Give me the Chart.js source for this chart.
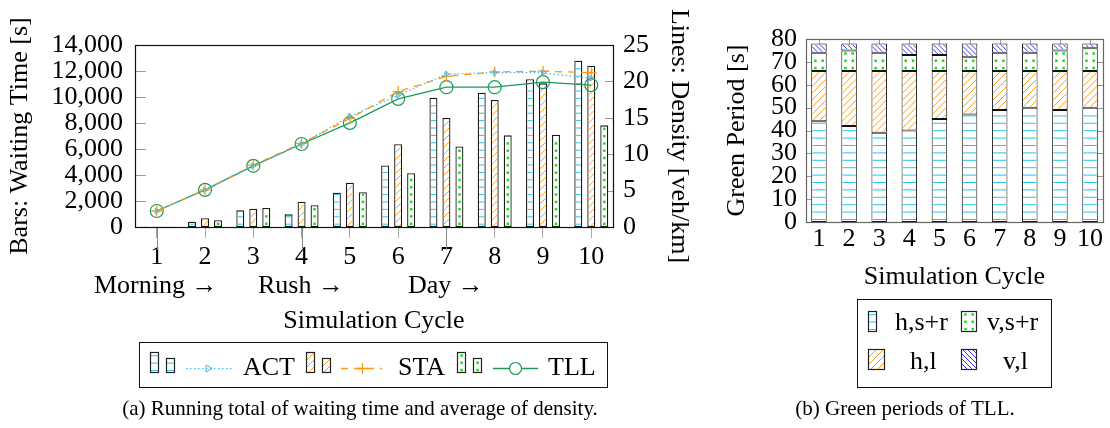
<!DOCTYPE html>
<html><head><meta charset="utf-8">
<script src="https://cdn.jsdelivr.net/npm/chart.js@4.4.1/dist/chart.umd.min.js"></script>
<style>
html,body{margin:0;padding:0;background:#fff;width:1110px;height:428px;overflow:hidden;font-family:'Liberation Serif',serif;color:#000}
canvas{position:absolute}
.t{position:absolute;white-space:nowrap;line-height:30px;font-size:26px}
.box{position:absolute;border:1.3px solid #111;box-sizing:border-box}
.cap{position:absolute;text-align:center;font-size:21px;line-height:26px;white-space:nowrap}
</style></head><body>
<canvas id="c1" width="720" height="340" style="left:0;top:0;width:720px;height:340px"></canvas>
<canvas id="c2" width="410" height="295" style="left:700px;top:0;width:410px;height:295px"></canvas>
<div class="box" style="left:139px;top:342px;width:469px;height:46px"></div>
<div class="box" style="left:857px;top:299px;width:195px;height:89px"></div>
<canvas id="ov" width="1110" height="428" style="left:0;top:0;width:1110px;height:428px;pointer-events:none"></canvas>
<div id="phases"></div>
<div class="t" style="left:243px;top:352px">ACT</div>
<div class="t" style="left:398px;top:352px">STA</div>
<div class="t" style="left:548px;top:352px">TLL</div>
<div class="t" style="left:895px;top:307px">h,s+r</div>
<div class="t" style="left:987px;top:307px">v,s+r</div>
<div class="t" style="left:910px;top:346px">h,l</div>
<div class="t" style="left:1003px;top:346px">v,l</div>
<div class="cap" style="left:0;width:720px;top:395px">(a) Running total of waiting time and average of density.</div>
<div class="cap" style="left:705px;width:400px;top:395px">(b) Green periods of TLL.</div>
<script>
// ---------- data ----------
const cycles = [1, 2, 3, 4, 5, 6, 7, 8, 9, 10];
const waitACT = [15, 410, 1280, 975, 2640, 4740, 9940, 10330, 11360, 12790];
const waitSTA = [15, 670, 1410, 1950, 3410, 6360, 8380, 9770, 11050, 12400];
const waitTLL = [15, 515, 1460, 1670, 2670, 4130, 6200, 7050, 7100, 7820];
const densACT = [2.2, 5.1, 8.4, 11.4, 15.2, 18.1, 21.0, 21.2, 21.2, 20.4];
const densSTA = [2.2, 5.1, 8.5, 11.5, 14.9, 18.6, 20.7, 21.3, 21.4, 21.2];
const densTLL = [2.2, 5.1, 8.4, 11.4, 14.3, 17.6, 19.2, 19.2, 19.9, 19.5];
const phaseLabels = ['Morning →', 'Rush →', 'Day →'];
const phaseStarts = [1, 4, 7];
const greenHSR = [44, 42, 39, 40, 45, 47, 49, 50, 49, 50];
const greenHL  = [22, 24, 27, 26, 21, 19, 17, 16, 17, 16];
const greenVSR = [8, 9, 8, 7, 7, 6, 8, 8, 9, 10];
const greenVL  = [4, 3, 4, 5, 5, 6, 4, 4, 3, 2];

const CYAN = '#22c8ee', ORANGE = '#ff9a10', GREEN = '#19dd19', BLUE = '#3535ff';
const ACTLINE = '#45b6ea', STALINE = '#ff9a10', TLLLINE = '#1b9a58';
const FONT = 'Liberation Serif';
Chart.defaults.font.family = FONT;
Chart.defaults.color = '#000';

function paintPattern(ctx, type, color, l, t, r, b) {
  ctx.save();
  ctx.beginPath(); ctx.rect(l, t, r - l, b - t); ctx.clip();
  ctx.strokeStyle = color; ctx.fillStyle = color; ctx.lineWidth = 1;
  const h = b - t, w = r - l;
  if (type === 'h') {
    ctx.beginPath();
    for (let y = b - 1.5; y > t; y -= 7.4) { ctx.moveTo(l, y); ctx.lineTo(r, y); }
    ctx.stroke();
  } else if (type === 'ne' || type === 'nw') {
    const s = type === 'ne' ? 7 : 5;
    ctx.beginPath();
    for (let k = -h; k < w + h; k += s) {
      if (type === 'ne') { ctx.moveTo(l + k, b); ctx.lineTo(l + k + h, t); }
      else { ctx.moveTo(l + k, t); ctx.lineTo(l + k + h, b); }
    }
    ctx.stroke();
  } else if (type === 'dots') {
    const s = 7.3;
    const ncol = Math.max(1, Math.round(w / s));
    const x0 = l + (w - (ncol - 1) * s) / 2;
    for (let y = b - 2; y > t + 0.5; y -= s) {
      for (let c = 0; c < ncol; c++) { ctx.fillRect(x0 + c * s - 1.2, y - 1.2, 2.5, 2.5); }
    }
  }
  ctx.restore();
}

const patternPlugin = {
  id: 'patterns',
  afterDatasetDraw(chart, args) {
    const ds = chart.data.datasets[args.index];
    if (!ds.pattern) return;
    const bw = ds.borderWidth || 0;
    args.meta.data.forEach(el => {
      const p = el.getProps(['x', 'y', 'base', 'width'], true);
      const l = p.x - p.width / 2 + bw, r = p.x + p.width / 2 - bw;
      const t = Math.min(p.y, p.base) + bw, b = Math.max(p.y, p.base) - bw;
      if (b - t < 1) return;
      paintPattern(chart.ctx, ds.pattern, ds.patternColor, l, t, r, b);
    });
  }
};

const pts = arr => cycles.map((c, i) => ({ x: c, y: arr[i] }));

// ---------- chart (a) ----------
const frame1 = {
  id: 'frame1',
  beforeDatasetsDraw(chart) {
    const { ctx, chartArea: a, scales } = chart;
    ctx.save(); ctx.strokeStyle = '#9a9a9a'; ctx.lineWidth = 1; ctx.beginPath();
    scales.y.ticks.forEach(t => { const y = Math.round(scales.y.getPixelForValue(t.value)) + 0.5; ctx.moveTo(a.left, y); ctx.lineTo(a.left + 11, y); });
    scales.y2.ticks.forEach(t => { const y = Math.round(scales.y2.getPixelForValue(t.value)) + 0.5; ctx.moveTo(a.right, y); ctx.lineTo(a.right - 8, y); });
    ctx.stroke(); ctx.restore();
  },
  afterDraw(chart) {
    const { ctx, chartArea: a, scales } = chart;
    ctx.save();
    ctx.strokeStyle = '#888'; ctx.lineWidth = 1; ctx.beginPath();
    phaseStarts.forEach(v => { const x = Math.round(scales.x.getPixelForValue(v)) + 0.5; ctx.moveTo(x, a.bottom); ctx.lineTo(x, a.bottom + 23); });
    ctx.stroke();
    ctx.strokeStyle = '#111'; ctx.lineWidth = 1.2;
    ctx.strokeRect(Math.round(a.left) + 0.5, Math.round(a.top) + 0.5, Math.round(a.right - a.left), Math.round(a.bottom - a.top));
    ctx.restore();
  }
};

new Chart(document.getElementById('c1'), {
  type: 'bar',
  data: {
    datasets: [
      { label: 'ACT', data: pts(waitACT), yAxisID: 'y', backgroundColor: '#fff', borderColor: '#1a1a1a', borderWidth: 1.3, borderSkipped: false, pattern: 'h', patternColor: CYAN, order: 1 },
      { label: 'STA', data: pts(waitSTA), yAxisID: 'y', backgroundColor: '#fff', borderColor: '#1a1a1a', borderWidth: 1.3, borderSkipped: false, pattern: 'ne', patternColor: ORANGE, order: 1 },
      { label: 'TLL', data: pts(waitTLL), yAxisID: 'y', backgroundColor: '#fff', borderColor: '#1a1a1a', borderWidth: 1.3, borderSkipped: false, pattern: 'dots', patternColor: GREEN, order: 1 },
      { type: 'line', label: 'ACT density', data: pts(densACT), yAxisID: 'y2', borderColor: ACTLINE, borderWidth: 1.2, borderDash: [1.5, 2.5], pointStyle: 'triangle', rotation: 90, pointRadius: 3, pointBorderColor: ACTLINE, pointBackgroundColor: 'rgba(0,0,0,0)', pointBorderWidth: 1, fill: false, tension: 0, order: 0 },
      { type: 'line', label: 'STA density', data: pts(densSTA), yAxisID: 'y2', borderColor: STALINE, borderWidth: 1.3, borderDash: [7, 6], pointStyle: 'cross', pointRadius: 5.5, pointBorderColor: STALINE, pointBorderWidth: 1.3, fill: false, tension: 0, order: 0 },
      { type: 'line', label: 'TLL density', data: pts(densTLL), yAxisID: 'y2', borderColor: TLLLINE, borderWidth: 1.3, pointStyle: 'circle', pointRadius: 6.5, pointBorderColor: TLLLINE, pointBackgroundColor: 'rgba(0,0,0,0)', pointBorderWidth: 1.2, fill: false, tension: 0, order: 0 }
    ]
  },
  options: {
    responsive: false, animation: false, devicePixelRatio: 1,
    datasets: { bar: { categoryPercentage: 0.807, barPercentage: 0.615 } },
    layout: { padding: { top: 45, left: 0, right: 0, bottom: 0 } },
    plugins: { legend: { display: false }, tooltip: { enabled: false } },
    scales: {
      x: {
        type: 'linear', min: 0.55, max: 10.45, offset: false,
        afterBuildTicks: s => { s.ticks = cycles.map(v => ({ value: v })); },
        ticks: { font: { size: 26 }, color: '#000', padding: 4, autoSkip: false, maxRotation: 0, callback: v => String(v) },
        grid: { offset: false, drawOnChartArea: false, drawTicks: true, tickLength: 11, color: '#aaa', tickColor: '#aaa' },
        border: { display: false },
        title: { display: true, text: 'Simulation Cycle', font: { size: 26 }, color: '#000', padding: { top: 0, bottom: 3 } },
        afterFit: s => { s.height = 113; }
      },
      y: {
        position: 'left', min: 0, max: 14000,
        ticks: { stepSize: 2000, autoSkip: false, font: { size: 26 }, color: '#000', padding: 12, callback: v => v.toLocaleString('en-US') },
        grid: { display: false, drawTicks: false }, border: { display: false },
        title: { display: true, text: 'Bars: Waiting Time [s]', font: { size: 26 }, color: '#000', padding: { top: 5, bottom: 0 } },
        afterFit: s => { s.width = 135; }
      },
      y2: {
        position: 'right', min: 0, max: 25,
        ticks: { stepSize: 5, autoSkip: false, font: { size: 26 }, color: '#000', padding: 10 },
        grid: { display: false, drawTicks: false }, border: { display: false },
        title: { display: true, text: 'Lines: Density [veh/km]', font: { size: 26 }, color: '#000', padding: { top: 26, bottom: 0 } },
        afterFit: s => { s.width = 107; }
      }
    }
  },
  plugins: [patternPlugin, frame1]
});

// ---------- chart (b) ----------
const frame2 = {
  id: 'frame2',
  beforeDatasetsDraw(chart) {
    const { ctx, chartArea: a, scales } = chart;
    ctx.save(); ctx.strokeStyle = '#9a9a9a'; ctx.lineWidth = 1; ctx.beginPath();
    scales.y.ticks.forEach(t => { const y = Math.round(scales.y.getPixelForValue(t.value)) + 0.5; ctx.moveTo(a.left, y); ctx.lineTo(a.left + 6, y); ctx.moveTo(a.right, y); ctx.lineTo(a.right - 6, y); });
    scales.x.ticks.forEach(t => { const x = Math.round(scales.x.getPixelForValue(t.value)) + 0.5; ctx.moveTo(x, a.bottom); ctx.lineTo(x, a.bottom - 6); ctx.moveTo(x, a.top); ctx.lineTo(x, a.top + 6); });
    ctx.stroke(); ctx.restore();
  },
  afterDraw(chart) {
    const { ctx, chartArea: a } = chart;
    ctx.save(); ctx.strokeStyle = '#666'; ctx.lineWidth = 1.2;
    ctx.strokeRect(Math.round(a.left) + 0.5, Math.round(a.top) + 0.5, Math.round(a.right - a.left), Math.round(a.bottom - a.top));
    ctx.restore();
  }
};

const seg = (label, arr, pattern, color) => ({ label, data: pts(arr), backgroundColor: '#fff', borderColor: '#111', borderWidth: 1, borderSkipped: false, pattern, patternColor: color });

new Chart(document.getElementById('c2'), {
  type: 'bar',
  data: {
    datasets: [
      seg('h,s+r', greenHSR, 'h', CYAN),
      seg('h,l', greenHL, 'ne', ORANGE),
      seg('v,s+r', greenVSR, 'dots', GREEN),
      seg('v,l', greenVL, 'nw', BLUE)
    ]
  },
  options: {
    responsive: false, animation: false, devicePixelRatio: 1,
    datasets: { bar: { categoryPercentage: 1, barPercentage: 0.515 } },
    layout: { padding: { top: 39, left: 0, right: 7, bottom: 0 } },
    plugins: { legend: { display: false }, tooltip: { enabled: false } },
    scales: {
      x: {
        type: 'linear', min: 0.57, max: 10.43, stacked: true, offset: false,
        afterBuildTicks: s => { s.ticks = cycles.map(v => ({ value: v })); },
        ticks: { font: { size: 26 }, color: '#000', padding: 2, autoSkip: false, maxRotation: 0, callback: v => String(v) },
        grid: { display: false, drawTicks: false, offset: false }, border: { display: false },
        title: { display: true, text: 'Simulation Cycle', font: { size: 26 }, color: '#000', padding: { top: 0, bottom: 2 } },
        afterFit: s => { s.height = 73; }
      },
      y: {
        min: 0, max: 80, stacked: true,
        ticks: { stepSize: 10, autoSkip: false, font: { size: 26 }, color: '#000', padding: 9 },
        grid: { display: false, drawTicks: false }, border: { display: false },
        title: { display: true, text: 'Green Period [s]', font: { size: 26 }, color: '#000', padding: { top: 22, bottom: 0 } },
        afterFit: s => { s.width = 106; }
      }
    }
  },
  plugins: [patternPlugin, frame2]
});

// ---------- phase labels ----------
const phaseLeft = [94, 258, 408];
const ph = document.getElementById('phases');
phaseLabels.forEach((txt, i) => {
  const d = document.createElement('div');
  d.className = 't'; d.style.left = phaseLeft[i] + 'px'; d.style.top = '270px';
  d.textContent = txt; ph.appendChild(d);
});

// ---------- legend graphics ----------
const ov = document.getElementById('ov').getContext('2d');
function swatch(l, t, w, h, type, color) {
  ov.save();
  ov.fillStyle = '#fff'; ov.fillRect(l, t, w, h);
  paintPattern(ov, type, color, l + 1, t + 1, l + w - 1, t + h - 1);
  ov.strokeStyle = '#222'; ov.lineWidth = 1.2; ov.strokeRect(l + 0.5, t + 0.5, w - 1, h - 1);
  ov.restore();
}
function lineSample(x1, x2, y, color, dash, width) {
  ov.save(); ov.strokeStyle = color; ov.lineWidth = width; ov.setLineDash(dash);
  ov.beginPath(); ov.moveTo(x1, y); ov.lineTo(x2, y); ov.stroke(); ov.restore();
}
// ACT
swatch(150, 352, 9, 21, 'h', CYAN); swatch(166, 358, 9, 15, 'h', CYAN);
lineSample(186, 232, 368.5, ACTLINE, [1.5, 2.5], 1.2);
ov.save(); ov.strokeStyle = ACTLINE; ov.lineWidth = 1; ov.beginPath();
ov.moveTo(206, 365); ov.lineTo(212, 368.5); ov.lineTo(206, 372); ov.closePath(); ov.stroke(); ov.restore();
// STA
swatch(306, 352, 9, 21, 'ne', ORANGE); swatch(322, 358, 9, 15, 'ne', ORANGE);
lineSample(341, 382, 368.5, STALINE, [7, 6], 1.3);
ov.save(); ov.strokeStyle = STALINE; ov.lineWidth = 1.3; ov.beginPath();
ov.moveTo(357, 368.5); ov.lineTo(368, 368.5); ov.moveTo(362.5, 363); ov.lineTo(362.5, 374); ov.stroke(); ov.restore();
// TLL
swatch(457, 352, 9, 21, 'dots', GREEN); swatch(473, 358, 9, 15, 'dots', GREEN);
lineSample(493, 538, 368.5, TLLLINE, [], 1.3);
ov.save(); ov.strokeStyle = TLLLINE; ov.lineWidth = 1.2; ov.fillStyle = '#fff';
ov.beginPath(); ov.arc(515.5, 368.5, 6, 0, Math.PI * 2); ov.fill(); ov.stroke(); ov.restore();
// right legend
swatch(868, 311, 9, 21, 'h', CYAN);
swatch(961, 311, 16, 21, 'dots', GREEN);
swatch(868, 349, 17, 21, 'ne', ORANGE);
swatch(961, 349, 16, 21, 'nw', BLUE);
</script>
</body></html>
